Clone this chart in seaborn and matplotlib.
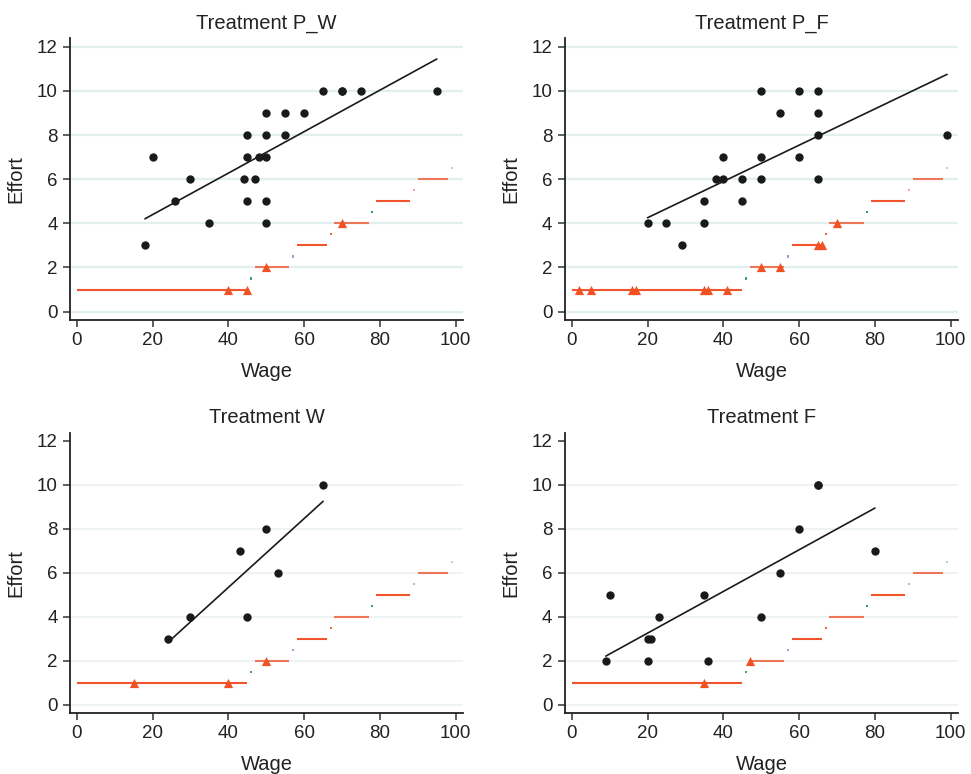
import numpy as np
import pandas as pd
import matplotlib
matplotlib.use("Agg")
import matplotlib.pyplot as plt
import seaborn as sns

# ---------------- data ----------------
titles = ["Treatment P_W", "Treatment P_F", "Treatment W", "Treatment F"]

pw_wage = [18, 20, 26, 30, 35, 44, 45, 45, 45, 47, 48, 50, 50, 50, 50, 50, 55, 55, 60, 65, 70, 70, 75, 95]
pw_effort = [3, 7, 5, 6, 4, 6, 8, 7, 5, 6, 7, 7, 8, 9, 5, 4, 9, 8, 9, 10, 10, 10, 10, 10]

pf_wage = [20, 25, 29, 35, 35, 38, 40, 40, 45, 45, 50, 50, 50, 55, 60, 60, 65, 65, 65, 65, 99]
pf_effort = [4, 4, 3, 4, 5, 6, 6, 7, 6, 5, 10, 7, 6, 9, 10, 7, 10, 9, 8, 6, 8]

w_wage = [24, 30, 43, 45, 50, 53, 65]
w_effort = [3, 4, 7, 4, 8, 6, 10]

f_wage = [9, 10, 20, 21, 20, 23, 35, 36, 50, 55, 60, 65, 65, 80]
f_effort = [2, 5, 3, 3, 2, 4, 5, 2, 4, 6, 8, 10, 10, 7]

# triangles (observations on the step function)
pw_tri_wage = [40, 45, 50, 70]
pw_tri_effort = [1, 1, 2, 4]
pf_tri_wage = [2, 5, 16, 17, 35, 36, 41, 50, 55, 65, 66, 70]
pf_tri_effort = [1, 1, 1, 1, 1, 1, 1, 2, 2, 3, 3, 4]
w_tri_wage = [15, 40, 50]
w_tri_effort = [1, 1, 2]
f_tri_wage = [35, 47]
f_tri_effort = [1, 2]

# step function
step_start = [0, 47, 58, 68, 79, 90]
step_end = [45, 56, 66, 77, 88, 98]
step_level = [1, 2, 3, 4, 5, 6]
half_wage = [46, 57, 67, 78, 89, 99]
half_level = [1.5, 2.5, 3.5, 4.5, 5.5, 6.5]

x_ticks = [0, 20, 40, 60, 80, 100]
y_ticks = [0, 2, 4, 6, 8, 10, 12]

# ---------------- style ----------------
sns.set_theme(style="ticks")
plt.rcParams["font.family"] = ["Liberation Sans", "DejaVu Sans"]
TXT = "#222222"

step_colors = ["#F2542D", "#EE7658", "#F2542D", "#EE7658", "#F2542D", "#EE7658"]
half_colors = ["#3E9C8F", "#9C9CD0", "#E8643C", "#1E9E8E", "#E8A8A8", "#A8D8E8"]

dots = [(pw_wage, pw_effort), (pf_wage, pf_effort), (w_wage, w_effort), (f_wage, f_effort)]
tris = [(pw_tri_wage, pw_tri_effort), (pf_tri_wage, pf_tri_effort),
        (w_tri_wage, w_tri_effort), (f_tri_wage, f_tri_effort)]

fig = plt.figure(figsize=(9.71, 7.74), dpi=100)
W, H = 971, 774
boxes = [(70, 38, 463, 320), (565, 38, 958, 320), (70, 433, 463, 713), (565, 433, 958, 713)]

for i in range(4):
    l, t, r, b = boxes[i]
    ax = fig.add_axes([l / W, 1 - b / H, (r - l) / W, (b - t) / H])
    top = i < 2
    grid_c = "#E2EFEF" if top else "#E8F1F0"
    grid_levels = y_ticks if top else y_ticks[:-1]
    for g in grid_levels:
        ax.axhline(g, color=grid_c, lw=1.6 if top else 1.1, zorder=0)

    # step function
    for k in range(len(step_level)):
        ax.hlines(step_level[k], step_start[k], step_end[k], color=step_colors[k],
                  lw=1.5, zorder=2)
    sdf = pd.DataFrame({"w": half_wage, "e": half_level, "c": [str(j) for j in range(6)]})
    sns.scatterplot(data=sdf, x="w", y="e", hue="c", palette=half_colors, marker="s",
                    s=2.5, linewidth=0, legend=False, ax=ax, zorder=2)

    # triangles
    tdf = pd.DataFrame({"w": tris[i][0], "e": tris[i][1]})
    sns.scatterplot(data=tdf, x="w", y="e", marker="^", color="#F05223", s=44,
                    linewidth=0, ax=ax, zorder=3)

    # dots + fitted line
    ddf = pd.DataFrame({"w": dots[i][0], "e": dots[i][1]})
    sns.regplot(data=ddf, x="w", y="e", ci=None, ax=ax,
                scatter_kws=dict(s=36, color="#1a1a1a", linewidths=0, zorder=4, alpha=1),
                line_kws=dict(color="#1a1a1a", lw=1.2, zorder=4))

    ax.set_xlim(-1.77, 101.9)
    ax.set_ylim(-0.38, 12.4 if top else 12.35)
    ax.set_xticks(x_ticks)
    ax.set_yticks(y_ticks)
    ax.tick_params(axis="both", labelsize=13.5, colors=TXT, length=5, width=1.1,
                   direction="out", pad=4)
    ax.tick_params(axis="both", color="#333333")
    for sp in ["top", "right"]:
        ax.spines[sp].set_visible(False)
    for sp in ["left", "bottom"]:
        ax.spines[sp].set_color("#222222")
        ax.spines[sp].set_linewidth(1.3)
    ax.set_xlabel("Wage", fontsize=14.5, color=TXT, labelpad=9)
    ax.set_ylabel("Effort", fontsize=14.5, color=TXT, labelpad=8)
    ax.set_title(titles[i], fontsize=14.5, color=TXT, pad=7)

fig.savefig("out.png", dpi=100)
